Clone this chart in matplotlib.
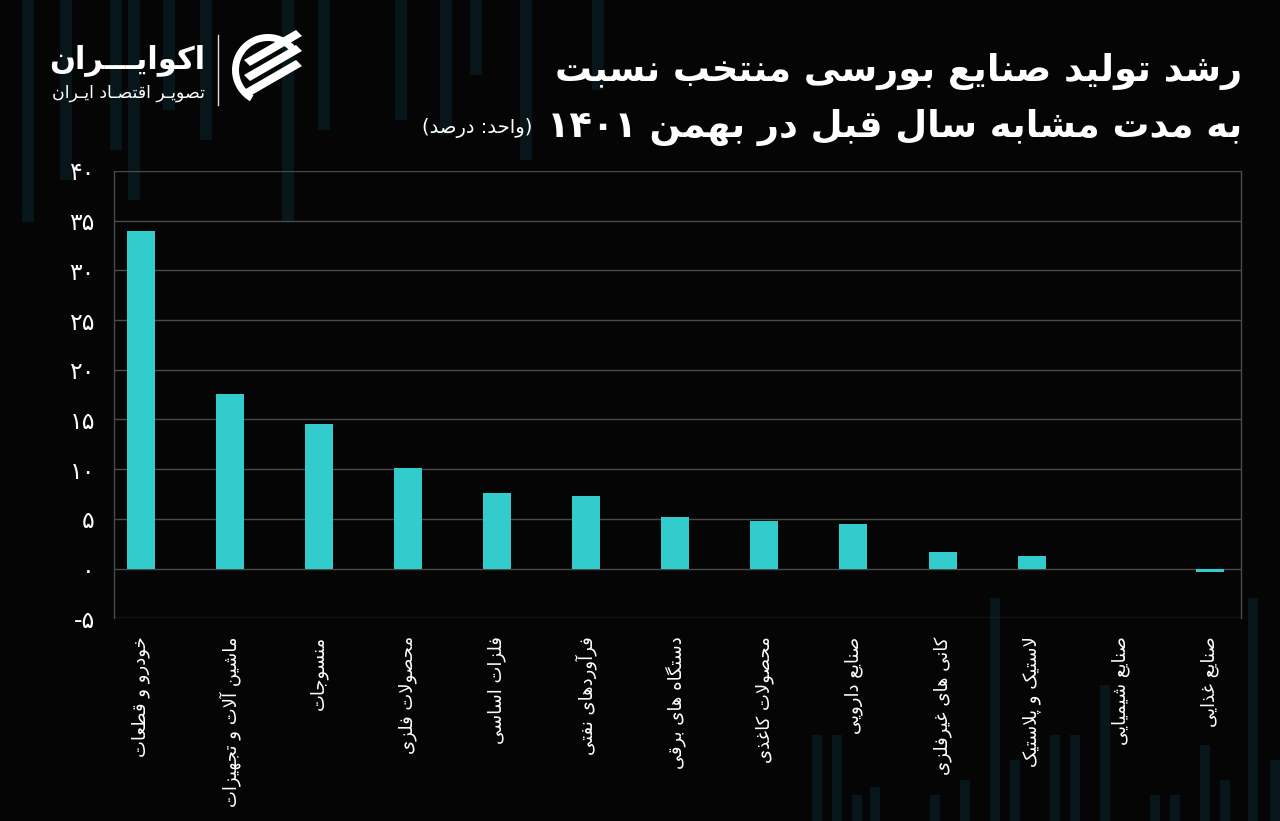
import matplotlib
matplotlib.use('Agg')
import matplotlib.pyplot as plt
from matplotlib.patches import Rectangle, Polygon, Wedge

# ---------------- data ----------------
categories = [
    'خودرو و قطعات',
    'ماشین آلات و تجهیزات',
    'منسوجات',
    'محصولات فلزی',
    'فلزات اساسی',
    'فرآوردهای نفتی',
    'دستگاه های برقی',
    'محصولات کاغذی',
    'صنایع دارویی',
    'کانی های غیرفلزی',
    'لاستیک و پلاستیک',
    'صنایع شیمیایی',
    'صنایع غذایی',
]
values = [34.0, 17.55, 14.5, 10.15, 7.6, 7.35, 5.15, 4.8, 4.45, 1.7, 1.3, 0.0, -0.3]
yticks = [-5, 0, 5, 10, 15, 20, 25, 30, 35, 40]
ytick_labels = ['-۵', '۰', '۵', '۱۰', '۱۵', '۲۰', '۲۵', '۳۰', '۳۵', '۴۰']
title1 = 'رشد تولید صنایع بورسی منتخب نسبت'
title2 = 'به مدت مشابه سال قبل در بهمن ۱۴۰۱'
unit_text = '(واحد: درصد)'
brand = 'اکوایـــران'
tagline = 'تصویـر اقتصـاد ایـران'

# ---------------- simple Persian shaping ----------------
FORMS = {
    'ا': ('\uFE8D', '\uFE8E'), 'آ': ('\uFE81', '\uFE82'),
    'د': ('\uFEA9', '\uFEAA'), 'ذ': ('\uFEAB', '\uFEAC'),
    'ر': ('\uFEAD', '\uFEAE'), 'ز': ('\uFEAF', '\uFEB0'),
    'ژ': ('\uFB8A', '\uFB8B'), 'و': ('\uFEED', '\uFEEE'),
    'ب': ('\uFE8F', '\uFE90', '\uFE91', '\uFE92'),
    'پ': ('\uFB56', '\uFB57', '\uFB58', '\uFB59'),
    'ت': ('\uFE95', '\uFE96', '\uFE97', '\uFE98'),
    'ث': ('\uFE99', '\uFE9A', '\uFE9B', '\uFE9C'),
    'ج': ('\uFE9D', '\uFE9E', '\uFE9F', '\uFEA0'),
    'چ': ('\uFB7A', '\uFB7B', '\uFB7C', '\uFB7D'),
    'ح': ('\uFEA1', '\uFEA2', '\uFEA3', '\uFEA4'),
    'خ': ('\uFEA5', '\uFEA6', '\uFEA7', '\uFEA8'),
    'س': ('\uFEB1', '\uFEB2', '\uFEB3', '\uFEB4'),
    'ش': ('\uFEB5', '\uFEB6', '\uFEB7', '\uFEB8'),
    'ص': ('\uFEB9', '\uFEBA', '\uFEBB', '\uFEBC'),
    'ض': ('\uFEBD', '\uFEBE', '\uFEBF', '\uFEC0'),
    'ط': ('\uFEC1', '\uFEC2', '\uFEC3', '\uFEC4'),
    'ظ': ('\uFEC5', '\uFEC6', '\uFEC7', '\uFEC8'),
    'ع': ('\uFEC9', '\uFECA', '\uFECB', '\uFECC'),
    'غ': ('\uFECD', '\uFECE', '\uFECF', '\uFED0'),
    'ف': ('\uFED1', '\uFED2', '\uFED3', '\uFED4'),
    'ق': ('\uFED5', '\uFED6', '\uFED7', '\uFED8'),
    'ک': ('\uFB8E', '\uFB8F', '\uFB90', '\uFB91'),
    'گ': ('\uFB92', '\uFB93', '\uFB94', '\uFB95'),
    'ل': ('\uFEDD', '\uFEDE', '\uFEDF', '\uFEE0'),
    'م': ('\uFEE1', '\uFEE2', '\uFEE3', '\uFEE4'),
    'ن': ('\uFEE5', '\uFEE6', '\uFEE7', '\uFEE8'),
    'ه': ('\uFEE9', '\uFEEA', '\uFEEB', '\uFEEC'),
    'ی': ('\uFBFC', '\uFBFD', '\uFBFE', '\uFBFF'),
    'ي': ('\uFEF1', '\uFEF2', '\uFEF3', '\uFEF4'),
}
TATWEEL = '\u0640'
LAMALEF = {'ا': ('\uFEFB', '\uFEFC'), 'آ': ('\uFEF5', '\uFEF6')}


def _dual(c):
    return c == TATWEEL or (c in FORMS and len(FORMS[c]) == 4)


def _joins(c):
    return c == TATWEEL or c in FORMS


def shape(text):
    out = []
    n = len(text)
    i = 0
    while i < n:
        c = text[i]
        prev = text[i - 1] if i > 0 else ''
        jp = _joins(c) and prev != '' and _dual(prev)
        if c == 'ل' and i + 1 < n and text[i + 1] in LAMALEF:
            out.append(LAMALEF[text[i + 1]][1 if jp else 0])
            i += 2
            continue
        if c in FORMS:
            nxt = text[i + 1] if i + 1 < n else ''
            jn = _dual(c) and nxt != '' and _joins(nxt)
            f = FORMS[c]
            if len(f) == 2:
                out.append(f[1] if jp else f[0])
            else:
                if jp and jn:
                    out.append(f[3])
                elif jp:
                    out.append(f[1])
                elif jn:
                    out.append(f[2])
                else:
                    out.append(f[0])
        else:
            out.append(c)
        i += 1
    return ''.join(out)


def _is_ltr(c):
    return c.isdigit() or ('a' <= c.lower() <= 'z')


MIRROR = {'(': ')', ')': '(', '[': ']', ']': '['}


def fa(text):
    s = shape(text)
    tokens = []
    for ch in s:
        t = 'L' if _is_ltr(ch) else 'R'
        if tokens and tokens[-1][0] == t:
            tokens[-1][1] += ch
        else:
            tokens.append([t, ch])
    res = []
    for t, chunk in reversed(tokens):
        if t == 'L':
            res.append(chunk)
        else:
            res.append(''.join(MIRROR.get(ch, ch) for ch in reversed(chunk)))
    return ''.join(res)


# ---------------- figure ----------------
BG = '#050505'
BAR = '#33CCCC'
GRID = '#4a4a4a'
DECO = '#07161b'
W, H = 1280, 821
plt.rcParams['font.family'] = ['DejaVu Sans']

fig = plt.figure(figsize=(W / 100, H / 100), dpi=100, facecolor=BG)

# decorative background layer (pixel coordinates)
deco = fig.add_axes([0, 0, 1, 1], zorder=0)
deco.set_xlim(0, W)
deco.set_ylim(H, 0)
deco.axis('off')
deco.set_facecolor(BG)
deco_top = [(22, 222), (60, 180), (110, 150), (128, 200),
            (163, 110), (200, 140), (282, 222), (318, 130),
            (395, 120), (440, 135), (470, 75), (520, 160), (592, 90)]
for x0, y1 in deco_top:
    deco.add_patch(Rectangle((x0, 0), 12, y1, color=DECO, lw=0, zorder=0))
deco_bot = [(812, 735), (832, 735), (852, 795), (870, 787), (930, 795), (960, 780),
            (990, 598), (1010, 760), (1050, 735), (1070, 735), (1100, 685), (1150, 795),
            (1170, 795), (1200, 745), (1220, 780), (1248, 598), (1270, 760)]
for x0, y0 in deco_bot:
    deco.add_patch(Rectangle((x0, y0), 10, H - y0, color=DECO, lw=0, zorder=0))

# logo
deco.plot([218, 218], [35, 105], color='#dddddd', lw=1.0)
deco.add_patch(Wedge((268, 70), 36, 120, 330, width=7, color='white', lw=0))
for k in range(3):
    dy = -16 + k * 15
    deco.add_patch(Polygon([(244, 76 + dy), (296, 46 + dy), (302, 52 + dy), (250, 82 + dy)],
                           closed=True, color='white', lw=0))
fig.text(205 / W, 1 - 60 / H, fa(brand), color='white', fontsize=22, fontweight='bold',
         ha='right', va='center')
fig.text(205 / W, 1 - 93 / H, fa(tagline), color='white', fontsize=12.5,
         ha='right', va='center')

# titles
t1 = fig.text(1242 / W, 1 - 72 / H, fa(title1), color='white', fontsize=26.5,
              fontweight='bold', ha='right', va='center')
t2 = fig.text(1242 / W, 1 - 128 / H, fa(title2), color='white', fontsize=26.5,
              fontweight='bold', ha='right', va='center')
fig.canvas.draw()
bb = t2.get_window_extent()
fig.text((bb.x0 - 14) / W, 1 - 128 / H, fa(unit_text), color='white', fontsize=14,
         ha='right', va='center')

# main axes
left, right = 114.3 / W, 1241 / W
top, bottom = 1 - 171 / H, 1 - 618.3 / H
ax = fig.add_axes([left, bottom, right - left, top - bottom], zorder=2)
ax.set_facecolor('none')
x = list(range(len(categories)))
ax.bar(x, values, width=0.314, color=BAR, zorder=3)
ax.set_ylim(-5, 40)
ax.set_xlim(-0.296, 12.35)
ax.set_yticks(yticks)
ax.set_yticklabels(ytick_labels, color='white', fontsize=17)
ax.set_xticks(x)
ax.set_xticklabels([fa(c) for c in categories], rotation=90, color='white',
                   fontsize=13, va='top', ha='center')
ax.tick_params(axis='both', length=0)
ax.tick_params(axis='y', pad=14)
ax.tick_params(axis='x', pad=13)
ax.grid(axis='y', color=GRID, lw=1.0, zorder=1)
for s in ['top', 'bottom']:
    ax.spines[s].set_visible(False)
for s in ['left', 'right']:
    ax.spines[s].set_color(GRID)
    ax.spines[s].set_linewidth(1.0)

fig.savefig('out.png', dpi=100, facecolor=BG)
